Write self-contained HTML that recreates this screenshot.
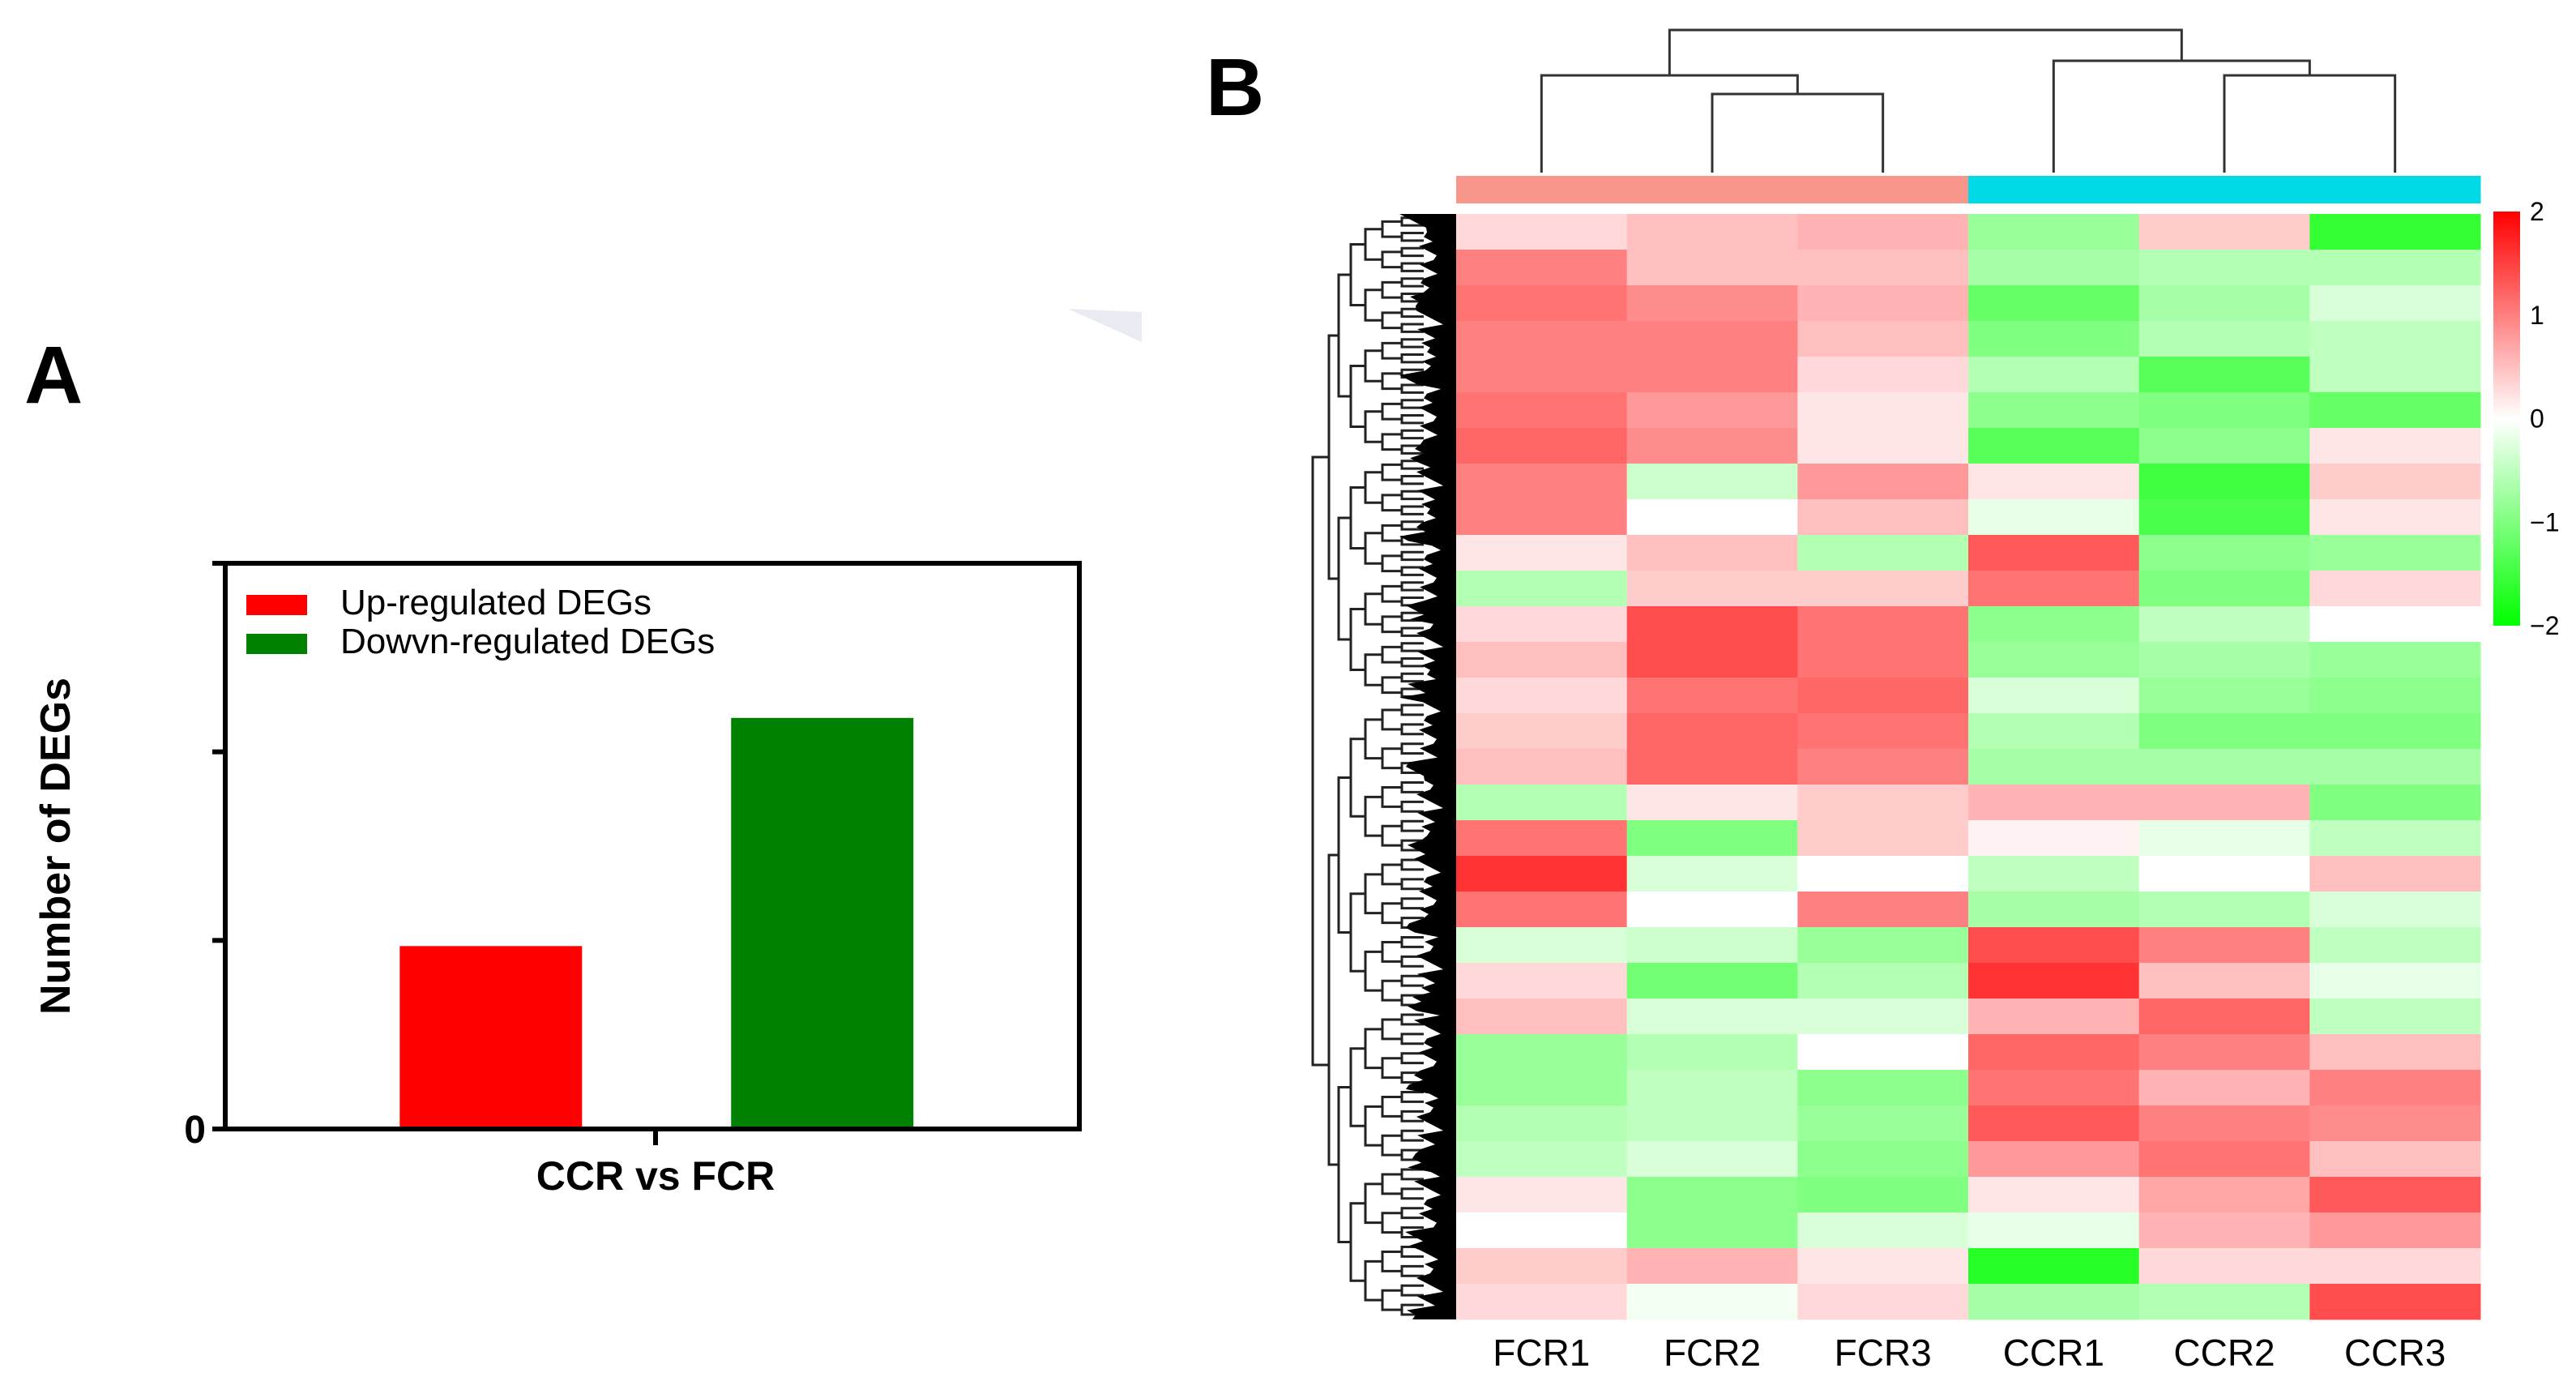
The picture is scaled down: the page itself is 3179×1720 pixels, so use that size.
<!DOCTYPE html>
<html><head><meta charset="utf-8"><style>
html,body{margin:0;padding:0;background:#fff}
svg{display:block;font-family:"Liberation Sans",sans-serif}
</style></head><body>
<svg id="fig" width="3179" height="1720" viewBox="0 0 3179 1720" xmlns="http://www.w3.org/2000/svg">
<g id="panelA">
<text x="30" y="497" font-size="100" font-weight="bold">A</text>
<polygon points="1318,381 1409,385 1409,422" fill="#e9ebf2"/>
<g id="barAxes"></g>
</g>
<g id="panelB">
<text x="1488" y="142" font-size="100" font-weight="bold">B</text>
<g id="heat"></g>
</g>
</svg>
<script>
const NS='http://www.w3.org/2000/svg';
function mk(tag,attrs,parent,txt){const e=document.createElementNS(NS,tag);for(const k in attrs)e.setAttribute(k,attrs[k]);if(txt!==undefined)e.textContent=txt;parent.appendChild(e);return e;}

// ---------- Panel A data ----------
const barCategories=['Up-regulated DEGs','Dowvn-regulated DEGs'];
const barValues=[0.97,2.18];
const barColors=['#ff0000','#008000'];
const yTickValues=[0,1,2,3];
const yTickLabels=['0','','',''];

// ---------- Panel B data ----------
const sampleNames=['FCR1','FCR2','FCR3','CCR1','CCR2','CCR3'];
const sampleGroups=['FCR','FCR','FCR','CCR','CCR','CCR'];
const colorbarTicks=[2,1,0,-1,-2];
const heatRows=[
[0.3,0.5,0.6,-0.8,0.4,-1.6],
[1.0,0.5,0.5,-0.7,-0.6,-0.6],
[1.1,0.9,0.6,-1.2,-0.7,-0.3],
[1.0,1.0,0.5,-1.0,-0.6,-0.5],
[1.0,1.0,0.3,-0.6,-1.3,-0.5],
[1.1,0.8,0.2,-0.9,-1.0,-1.2],
[1.2,0.9,0.2,-1.3,-0.9,0.2],
[1.0,-0.4,0.8,0.2,-1.5,0.4],
[1.0,0.0,0.5,-0.2,-1.4,0.2],
[0.2,0.5,-0.6,1.3,-0.9,-0.8],
[-0.6,0.4,0.4,1.1,-1.0,0.3],
[0.3,1.4,1.1,-0.9,-0.5,0.0],
[0.5,1.4,1.1,-0.8,-0.7,-0.8],
[0.3,1.1,1.2,-0.3,-0.8,-0.9],
[0.4,1.2,1.1,-0.6,-1.0,-1.0],
[0.5,1.2,1.0,-0.7,-0.7,-0.7],
[-0.6,0.2,0.4,0.6,0.6,-1.0],
[1.1,-1.0,0.4,0.1,-0.2,-0.5],
[1.6,-0.3,0.0,-0.5,0.0,0.5],
[1.1,0.0,1.0,-0.7,-0.6,-0.3],
[-0.3,-0.4,-0.8,1.4,1.0,-0.5],
[0.3,-1.1,-0.6,1.6,0.5,-0.2],
[0.5,-0.3,-0.3,0.6,1.2,-0.5],
[-0.8,-0.6,0.0,1.2,1.0,0.5],
[-0.8,-0.5,-0.9,1.1,0.6,1.0],
[-0.6,-0.5,-0.8,1.3,1.0,0.9],
[-0.5,-0.3,-0.9,0.8,1.1,0.5],
[0.2,-0.9,-1.0,0.2,0.7,1.3],
[0.0,-0.9,-0.3,-0.2,0.6,0.8],
[0.4,0.6,0.2,-1.7,0.3,0.3],
[0.3,-0.1,0.3,-0.7,-0.6,1.4]
];

// ---------- Panel A drawing ----------
(function(){
const g=document.getElementById('barAxes');
const L=278,R=1332,T=695,B=1393;
const yMax=3;
const y=v=>B-(v/yMax)*(B-T);
const bw=225;
const xc=i=>L+(R-L)*(0.311+i*0.388);
barValues.forEach((v,i)=>{
 const r=mk('rect',{x:xc(i)-bw/2,y:y(v),width:bw,height:B-y(v),fill:barColors[i]},g);
 
 
});
mk('rect',{x:L,y:T,width:R-L,height:B-T,fill:'none',stroke:'#000','stroke-width':6,},g);
yTickValues.forEach((v,i)=>{
 mk('line',{x1:L-16,x2:L,y1:y(v),y2:y(v),stroke:'#000','stroke-width':6,},g);
 if(yTickLabels[i]) mk('text',{x:L-24,y:y(v)+17,'font-size':48,'font-weight':'bold','text-anchor':'end',},g,yTickLabels[i]);
});
mk('line',{x1:809,x2:809,y1:B,y2:B+20,stroke:'#000','stroke-width':6,},g);
mk('text',{x:809,y:1468,'font-size':50,'font-weight':'bold','text-anchor':'middle',},g,'CCR vs FCR');
mk('text',{x:0,y:0,'font-size':52,'font-weight':'bold','text-anchor':'middle',transform:'translate(86,1044) rotate(-90)',},g,'Number of DEGs');
barCategories.forEach((c,i)=>{
 const ly=734+i*48;
 const s=mk('rect',{x:304,y:ly,width:75,height:25,fill:barColors[i]},g);
 
 
 const t=mk('text',{x:420,y:ly+24,'font-size':44},g,c);
 
 
});
})();

// ---------- Panel B drawing ----------
(function(){
const g=document.getElementById('heat');
const HL=1797,HR=3061,HT=264,HB=1628;
const cw=(HR-HL)/sampleNames.length;
const rh=(HB-HT)/heatRows.length;
const colX=i=>HL+i*cw;
const rowY=j=>HT+j*rh;
function col(v){v=Math.max(-2,Math.min(2,v));const t=Math.abs(v)/2;const o=Math.round(255*(1-t));return v>=0?`rgb(255,${o},${o})`:`rgb(${o},255,${o})`;}
heatRows.forEach((row,j)=>{row.forEach((v,i)=>{
 const r=mk('rect',{x:colX(i),y:rowY(j),width:cw+0.5,height:rh+0.5,fill:col(v)},g);
 
 
});});
sampleGroups.forEach((s,i)=>{
 const r=mk('rect',{x:colX(i),y:217,width:cw+0.5,height:34,fill:s==='FCR'?'#f9968b':'#00d9e6'},g);
 
 
});
sampleNames.forEach((n,i)=>{
 const t=mk('text',{x:colX(i)+cw/2,y:1685,'font-size':46,'text-anchor':'middle'},g,n);
 
 
});
const cc=i=>colX(i)+cw/2;
const dg=mk('g',{stroke:'#333','stroke-width':3,fill:'none',},g);
function br(x1,y1,x2,y2,top){mk('path',{d:`M${x1},${y1}V${top}H${x2}V${y2}`},dg);}
br(cc(1),213,cc(2),213,116);
br(cc(0),213,(cc(1)+cc(2))/2,116,93);
br(cc(4),213,cc(5),213,93);
br(cc(3),213,(cc(4)+cc(5))/2,93,75);
br((cc(0)+(cc(1)+cc(2))/2)/2,93,(cc(3)+(cc(4)+cc(5))/2)/2,75,37);
// row dendrogram (decorative)
const rg=mk('g',{},g);
const lg=mk('g',{stroke:'#222','stroke-width':3,fill:'none'},rg);
function tree(y0,y1,x,depth){if(depth>6||y1-y0<12)return;const m=(y0+y1)/2;const a=(y0+m)/2,b=(m+y1)/2;const nx=x+12+depth*3;mk('path',{d:`M${nx},${a}H${x}V${b}H${nx}`},lg);tree(y0,m,nx,depth+1);tree(m,y1,nx,depth+1);}
mk('path',{d:`M1640,${HT+300}H1620V${HT+1050}H1640`},lg);
tree(HT,HT+600,1640,0);tree(HT+600,HB,1640,0);
let pts=[];const n=240;
for(let k=0;k<=n;k++){const yy=HT+k*(HB-HT)/n;const xx=1745+((k*37)%7)*4+((k*11)%5)*3-((k%17<4)?18:0);pts.push(xx+','+yy);}
mk('polygon',{points:'1797,'+HT+' '+pts.join(' ')+' 1797,'+HB,fill:'#000'},rg);
// colorbar
const defs=mk('defs',{},g);
const lgr=mk('linearGradient',{id:'cb',x1:0,y1:0,x2:0,y2:1},defs);
mk('stop',{offset:'0','stop-color':'#ff0000'},lgr);mk('stop',{offset:'0.5','stop-color':'#ffffff'},lgr);mk('stop',{offset:'1','stop-color':'#00ff00'},lgr);
const CT=261,CB=772;
mk('rect',{x:3077,y:CT,width:33,height:CB-CT,fill:'url(#cb)',},g);
const cy=v=>CT+(2-v)/4*(CB-CT);
colorbarTicks.forEach(v=>{
 const t=mk('text',{x:3122,y:cy(v)+11,'font-size':32},g,v<0?'\u2212'+Math.abs(v):String(v));
 
 
});
})();
</script>
</body></html>
